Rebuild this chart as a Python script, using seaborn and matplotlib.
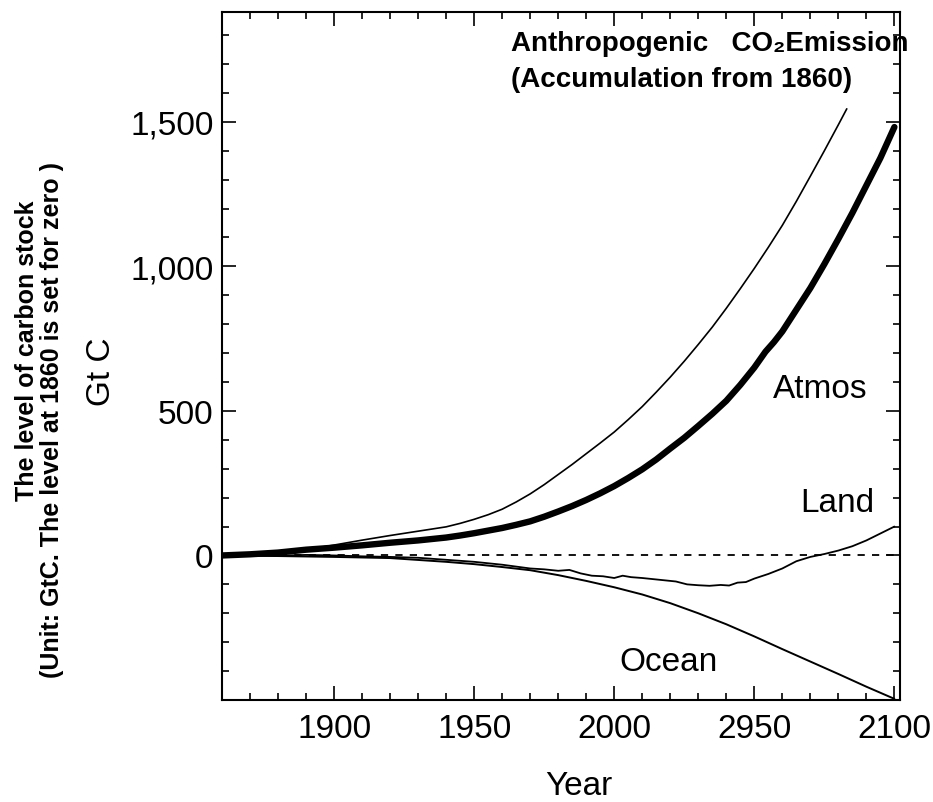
import numpy as np
import pandas as pd
import seaborn as sns
import matplotlib.pyplot as plt
from matplotlib.ticker import MultipleLocator, FuncFormatter

sns.set_style("ticks")
plt.rcParams['font.family'] = ['Liberation Sans', 'DejaVu Sans']
plt.rcParams['text.color'] = 'black'
plt.rcParams['xtick.color'] = 'black'
plt.rcParams['ytick.color'] = 'black'

# Cumulative anthropogenic emission (thin line, runs under the title text)
emis_year = [1860, 1870, 1880, 1890, 1900, 1910, 1920, 1930, 1940, 1945, 1950,
             1955, 1960, 1965, 1970, 1975, 1980, 1985, 1990, 1995, 2000, 2005,
             2010, 2015, 2020, 2025, 2030, 2035, 2040, 2045, 2050, 2055, 2060,
             2065, 2070, 2075, 2080, 2083]
emis_val = [0, 4, 10, 20, 36, 53, 69, 84, 99, 111, 125, 141, 160, 185, 213,
            245, 280, 315, 352, 389, 427, 470, 515, 565, 617, 672, 730, 790,
            855, 923, 993, 1066, 1142, 1225, 1312, 1400, 1490, 1545]

# Atmosphere (thick line)
atm_year = [1860, 1870, 1880, 1890, 1900, 1910, 1920, 1930, 1940, 1945, 1950,
            1955, 1960, 1965, 1970, 1975, 1980, 1985, 1990, 1995, 2000, 2005,
            2010, 2015, 2020, 2025, 2030, 2035, 2040, 2045, 2050, 2054, 2057,
            2060, 2065, 2070, 2075, 2080, 2085, 2090, 2095, 2100]
atm_val = [0, 4, 10, 20, 27, 35, 44, 52, 62, 69, 77, 86, 95, 106, 118, 134,
           152, 171, 192, 215, 240, 268, 298, 332, 370, 407, 448, 490, 535,
           590, 650, 705, 738, 775, 850, 925, 1008, 1095, 1185, 1280, 1375,
           1482]

# Land
land_year = [1860, 1870, 1880, 1890, 1900, 1910, 1920, 1930, 1940, 1950, 1960,
             1970, 1975, 1980, 1984, 1988, 1992, 1996, 2000, 2003, 2006, 2010,
             2014, 2018, 2022, 2026, 2030, 2034, 2038, 2041, 2044, 2047, 2050,
             2055, 2060, 2065, 2070, 2075, 2080, 2085, 2090, 2095, 2100]
land_val = [0, 1, -1, 2, 0, -3, -5, -8, -15, -22, -32, -45, -48, -53, -50,
            -62, -70, -72, -78, -70, -75, -78, -82, -86, -90, -100, -103,
            -105, -102, -104, -94, -92, -80, -64, -45, -20, -5, 5, 17, 32,
            52, 76, 100]

# Ocean
ocean_year = [1860, 1880, 1900, 1920, 1940, 1950, 1960, 1970, 1980, 1990, 2000,
              2010, 2020, 2030, 2040, 2050, 2060, 2070, 2080, 2090, 2100]
ocean_val = [0, -2, -5, -9, -22, -30, -40, -51, -68, -88, -110, -135, -165,
             -200, -238, -280, -324, -367, -410, -454, -496]

x_ticks = [1900, 1950, 2000, 2050, 2100]
x_tick_labels = ['1900', '1950', '2000', '2950', '2100']
y_ticks = [0, 500, 1000, 1500]

W, H = 933, 803
fig, ax = plt.subplots(figsize=(W / 100, H / 100), dpi=100)
fig.subplots_adjust(left=222 / W, right=900 / W, bottom=1 - 701 / H, top=1 - 13 / H)

ax.axhline(0, color='black', lw=1.3, dashes=(4, 4), zorder=1)
sns.lineplot(x=emis_year, y=emis_val, ax=ax, color='black', lw=1.2)
sns.lineplot(x=ocean_year, y=ocean_val, ax=ax, color='black', lw=1.4)
sns.lineplot(x=land_year, y=land_val, ax=ax, color='black', lw=1.3)
sns.lineplot(x=atm_year, y=atm_val, ax=ax, color='black', lw=4.6)

ax.set_xlim(1860, 2102)
ax.set_ylim(-500, 1880)
ax.set_xticks(x_ticks)
ax.set_xticklabels(x_tick_labels)
ax.xaxis.set_minor_locator(MultipleLocator(10))
ax.set_yticks(y_ticks)
ax.yaxis.set_minor_locator(MultipleLocator(100))
ax.yaxis.set_major_formatter(FuncFormatter(lambda v, p: f"{v:,.0f}"))

ax.tick_params(which='both', direction='in', top=True, right=True,
               width=1.2, color='black')
ax.tick_params(which='major', length=10, labelsize=24)
ax.tick_params(which='minor', length=5)
ax.tick_params(axis='x', which='major', pad=9)
ax.tick_params(axis='y', which='major', pad=6)
for s in ax.spines.values():
    s.set_linewidth(1.5)
    s.set_color('black')

ax.set_xlabel('')
ax.set_ylabel('')

# curve labels
ax.text(2056.6, 549, 'Atmos', fontsize=24, va='baseline', ha='left')
ax.text(2066.3, 155, 'Land', fontsize=24, va='baseline', ha='left')
ax.text(2001.7, -397, 'Ocean', fontsize=24, va='baseline', ha='left')


def fx(x):
    return x / W


def fy(y):
    return 1 - y / H


fig.text(fx(511), fy(51), 'Anthropogenic   CO\u2082Emission', fontsize=20,
         fontweight='bold', va='baseline', ha='left')
fig.text(fx(511), fy(87), '(Accumulation from 1860)', fontsize=20,
         fontweight='bold', va='baseline', ha='left')

fig.text(fx(101), fy(372), 'Gt C', fontsize=24, rotation=90,
         ha='center', va='center')
fig.text(fx(579), fy(787), 'Year', fontsize=24, ha='center', va='center')
fig.text(fx(27), fy(351), 'The level of carbon stock', fontsize=18,
         fontweight='bold', rotation=90, ha='center', va='center')
fig.text(fx(52), fy(420), '(Unit: GtC. The level at 1860 is set for zero )',
         fontsize=18, fontweight='bold', rotation=90, ha='center', va='center')

fig.savefig('out.png', dpi=100)
